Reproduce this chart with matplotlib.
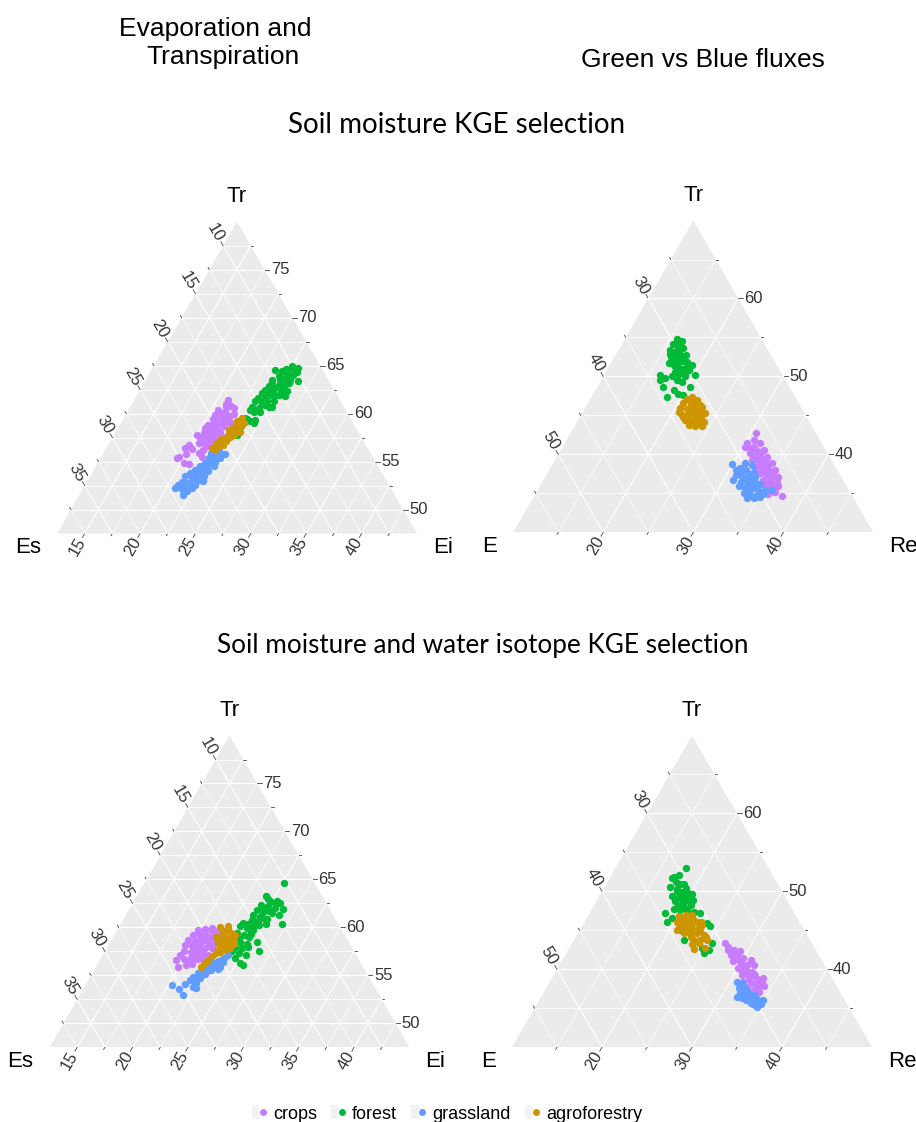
import numpy as np
import matplotlib.pyplot as plt
from matplotlib.patches import Polygon, Patch
from matplotlib.lines import Line2D
from matplotlib.legend_handler import HandlerTuple

plt.rcParams['font.family'] = ['Liberation Sans', 'DejaVu Sans']

# ---------------------------------------------------------------
# Evaporation / transpiration partitioning: pairs of (Tr, Ei) in %,
# soil evaporation Es is the remainder (100 - Tr - Ei)
# ---------------------------------------------------------------
et_sm_crops = [(61.4, 21.0), (60.6, 21.9), (60.4, 20.6), (60.2, 21.3), (59.9, 20.6), (59.7, 21.3),
               (59.7, 22.0), (59.4, 20.6), (59.2, 21.2), (59.2, 22.0), (58.8, 20.5), (58.7, 21.2),
               (58.7, 22.0), (59.0, 22.5), (58.5, 20.4), (58.3, 21.1), (58.1, 21.9), (57.8, 20.0),
               (57.8, 20.9), (57.6, 21.7), (57.6, 22.5), (57.3, 20.7), (57.1, 21.5), (57.1, 22.3),
               (56.9, 20.6), (56.6, 21.5), (56.7, 19.8), (56.4, 19.6), (56.6, 21.9), (55.5, 19.5),
               (55.4, 19.4), (55.9, 21.1), (55.5, 21.6), (54.8, 20.3), (54.7, 20.8), (60.7, 21.2),
               (60.0, 22.2), (58.0, 20.5), (57.3, 21.7), (60.1, 20.9), (59.5, 21.6), (59.0, 20.9),
               (58.9, 21.6), (58.4, 20.8), (58.3, 21.5), (57.9, 21.3), (57.5, 20.4), (57.4, 21.1),
               (56.9, 21.1), (56.3, 20.3), (56.2, 21.3), (55.8, 20.0), (60.8, 21.6), (61.0, 21.0)]
et_sm_forest = [(65.0, 25.0), (64.8, 25.6), (64.5, 23.7), (64.4, 24.4), (64.2, 24.9), (64.0, 25.6),
                (63.9, 24.3), (63.7, 25.0), (63.8, 25.4), (63.4, 26.3), (63.3, 24.0), (63.2, 24.8),
                (63.2, 25.6), (62.9, 23.9), (62.8, 24.7), (62.6, 25.4), (62.5, 23.8), (62.3, 24.6),
                (62.2, 25.5), (62.1, 23.7), (61.9, 24.6), (61.9, 25.3), (61.6, 23.6), (61.5, 24.3),
                (61.3, 25.2), (61.3, 23.5), (61.1, 24.2), (60.7, 25.0), (60.7, 23.5), (60.6, 24.2),
                (60.4, 23.5), (60.2, 23.9), (59.4, 23.7), (59.2, 24.1), (59.3, 24.5), (58.7, 23.5),
                (59.0, 24.5), (59.5, 23.5), (64.6, 25.3), (64.3, 25.8), (63.5, 25.5), (61.8, 25.9),
                (60.7, 25.3), (62.0, 24.1), (62.5, 25.2), (58.1, 23.6), (57.8, 23.6), (64.6, 24.6),
                (64.0, 25.0), (63.6, 24.6), (63.0, 25.2), (62.7, 24.2), (62.2, 24.2), (61.8, 24.9),
                (61.3, 24.6), (60.9, 24.6), (60.2, 24.5), (63.5, 23.9), (62.4, 25.8)]
et_sm_grass = [(56.1, 22.8), (55.8, 23.5), (55.7, 22.5), (55.4, 23.3), (55.4, 22.3), (55.0, 23.0),
               (54.8, 22.2), (54.7, 22.9), (54.5, 21.9), (54.3, 22.6), (54.1, 21.7), (54.0, 22.3),
               (54.0, 22.9), (53.8, 21.4), (53.6, 22.1), (53.5, 22.8), (53.5, 21.1), (53.3, 21.8),
               (53.1, 22.5), (52.9, 21.1), (52.8, 21.8), (52.6, 22.4), (52.6, 20.9), (52.4, 21.6),
               (52.2, 22.3), (52.2, 20.8), (52.1, 21.5), (51.9, 22.0), (55.2, 22.5), (55.5, 22.9),
               (54.3, 21.9), (52.2, 21.3), (51.5, 21.9), (55.8, 22.9), (55.1, 22.6), (54.6, 22.4),
               (54.5, 23.2), (53.9, 21.9), (53.2, 22.2), (52.8, 21.4), (52.4, 22.0), (55.9, 22.2),
               (53.0, 22.9)]
et_sm_agro = [(59.5, 23.2), (59.2, 23.2), (58.8, 23.1), (58.5, 23.4), (58.5, 22.8), (58.1, 23.3),
              (58.0, 22.8), (57.6, 23.1), (57.4, 22.7), (57.1, 23.0), (57.0, 22.6), (56.7, 22.5),
              (56.7, 22.9), (56.6, 22.3), (56.4, 22.0), (57.8, 23.3), (58.1, 23.7), (59.0, 23.6),
              (57.3, 22.4), (58.3, 22.6), (58.8, 23.5), (58.2, 23.0), (57.5, 22.9), (56.9, 22.2),
              (59.2, 22.9), (56.2, 22.4)]

et_iso_crops = [(59.7, 19.8), (59.8, 20.4), (59.7, 21.1), (59.6, 21.7), (59.2, 19.6), (59.2, 20.2),
                (59.1, 20.9), (59.0, 21.5), (58.9, 22.2), (58.7, 19.4), (58.6, 20.1), (58.5, 20.7),
                (58.5, 21.3), (58.4, 22.0), (58.2, 19.4), (58.1, 20.1), (58.0, 20.7), (57.9, 21.3),
                (57.8, 22.0), (57.5, 19.6), (57.4, 20.3), (57.3, 20.9), (57.2, 21.5), (56.6, 19.4),
                (56.7, 20.0), (56.8, 20.6), (56.7, 21.2), (55.9, 19.9), (56.1, 20.5), (56.2, 21.0),
                (56.6, 21.8), (57.1, 22.0), (57.1, 19.5), (59.5, 20.5), (59.4, 21.4), (58.9, 20.5),
                (58.8, 21.1), (58.3, 20.4), (58.2, 21.7), (57.7, 20.4), (57.6, 21.1), (57.1, 20.6),
                (57.0, 21.3), (56.4, 20.7), (59.9, 21.0)]
et_iso_forest = [(64.6, 25.1), (63.3, 24.1), (62.7, 24.8), (62.8, 25.4), (62.5, 25.8), (62.3, 24.2),
                 (62.2, 24.9), (62.0, 25.6), (61.9, 26.4), (61.8, 24.1), (61.6, 24.7), (61.5, 25.6),
                 (61.3, 26.3), (61.3, 24.0), (61.1, 24.7), (60.9, 25.4), (60.8, 24.1), (60.6, 24.8),
                 (60.5, 23.5), (60.4, 24.0), (60.1, 24.7), (60.4, 25.6), (60.4, 27.0), (60.1, 23.4),
                 (59.9, 24.1), (59.7, 24.8), (59.4, 23.5), (59.2, 24.2), (59.0, 24.8), (58.7, 23.5),
                 (58.5, 24.2), (58.3, 24.9), (58.5, 25.7), (58.0, 24.0), (57.8, 24.7), (57.5, 24.0),
                 (57.3, 24.7), (57.1, 25.4), (57.5, 26.4), (56.8, 24.6), (56.3, 25.3), (56.1, 25.7),
                 (62.5, 25.4), (63.0, 24.5), (62.0, 24.5), (61.0, 25.0), (60.7, 24.4), (59.8, 24.4),
                 (59.3, 24.8), (58.8, 24.0), (58.0, 25.2), (61.7, 25.2), (60.2, 25.1)]
et_iso_grass = [(57.1, 23.8), (56.8, 23.6), (56.5, 23.2), (56.3, 22.9), (55.9, 23.7), (55.9, 22.6),
                (55.6, 22.4), (55.6, 23.0), (55.2, 22.1), (55.1, 22.7), (54.8, 21.8), (54.7, 22.5),
                (54.5, 21.7), (54.2, 22.4), (55.7, 23.6), (53.8, 22.3), (53.7, 22.6), (54.0, 20.3),
                (53.6, 21.1), (54.1, 21.4), (53.0, 21.8), (56.0, 23.1), (56.6, 23.4), (56.1, 22.9),
                (55.4, 22.7), (54.9, 22.3), (54.4, 22.1), (56.4, 23.7)]
et_iso_agro = [(60.0, 21.6), (60.1, 22.3), (59.6, 22.2), (59.4, 22.9), (59.2, 23.4), (59.0, 22.6),
               (58.9, 23.3), (58.7, 22.5), (58.5, 23.1), (58.3, 23.8), (58.2, 23.2), (58.2, 22.6),
               (57.6, 22.7), (57.6, 23.3), (57.3, 22.6), (57.0, 22.4), (56.6, 22.3), (56.3, 22.1),
               (55.9, 22.0), (57.8, 23.6), (59.0, 21.8), (59.8, 22.5), (59.3, 22.3), (58.8, 22.9),
               (58.4, 22.3), (57.9, 22.9), (57.4, 22.9), (58.6, 23.6)]

# ---------------------------------------------------------------
# Green vs blue fluxes: pairs of (Tr, Re) in %, E is the remainder
# ---------------------------------------------------------------
gb_sm_crops = [(42.7, 30.6), (41.5, 30.2), (41.8, 30.8), (41.4, 31.7), (40.8, 30.9), (40.6, 31.7),
               (40.5, 32.6), (39.9, 31.7), (39.7, 32.6), (39.6, 33.4), (39.3, 31.9), (39.1, 32.7),
               (38.9, 33.6), (38.9, 34.3), (38.4, 32.7), (38.2, 33.5), (38.1, 34.3), (38.0, 35.1),
               (37.6, 33.6), (37.4, 34.5), (37.2, 35.3), (37.1, 35.9), (36.7, 34.4), (36.6, 35.2),
               (36.5, 36.0), (35.9, 35.2), (35.7, 36.1), (35.9, 36.5), (35.2, 35.9), (34.9, 35.9),
               (34.7, 37.5), (35.2, 36.5), (41.0, 30.3), (40.3, 32.4), (41.0, 31.2), (40.2, 31.2),
               (40.0, 32.2), (39.4, 32.3), (38.6, 33.1), (38.4, 34.0), (37.8, 34.0), (37.8, 34.9),
               (37.0, 34.9), (36.2, 35.6), (36.2, 34.8), (39.0, 33.2)]
gb_sm_forest = [(54.8, 15.8), (54.5, 16.5), (54.1, 15.7), (53.8, 16.4), (53.6, 17.1), (53.4, 15.7),
                (53.1, 16.4), (52.8, 17.1), (52.7, 17.8), (52.5, 16.3), (52.3, 17.0), (52.0, 17.7),
                (51.8, 18.4), (51.7, 16.4), (51.5, 17.1), (51.2, 17.7), (51.0, 18.4), (50.8, 19.1),
                (50.6, 17.7), (50.4, 18.3), (50.2, 16.2), (49.8, 17.0), (50.0, 17.6), (50.0, 19.1),
                (50.2, 20.1), (49.5, 18.4), (49.3, 19.1), (48.7, 20.3), (48.7, 17.3), (48.3, 18.7),
                (47.4, 18.4), (47.8, 19.4), (47.6, 20.1), (49.5, 16.5), (51.2, 18.7), (51.5, 19.1),
                (54.2, 16.2), (53.3, 16.8), (52.9, 16.0), (52.2, 16.7), (51.9, 17.2), (51.3, 17.3),
                (50.9, 17.9), (50.5, 18.8), (49.9, 18.2), (52.6, 17.5)]
gb_sm_grass = [(38.8, 29.9), (38.9, 31.3), (38.6, 32.2), (38.2, 31.1), (38.0, 31.9), (37.8, 32.8),
               (37.4, 31.0), (37.2, 31.8), (37.1, 32.6), (37.1, 33.3), (36.7, 31.1), (36.5, 32.0),
               (36.4, 32.8), (36.3, 33.5), (36.2, 34.3), (35.9, 32.1), (35.7, 32.9), (35.5, 33.7),
               (35.4, 34.5), (35.4, 35.3), (35.0, 33.1), (34.8, 33.9), (34.8, 34.7), (34.9, 35.3),
               (34.4, 33.8), (34.4, 34.5), (34.5, 35.2), (35.4, 36.0), (38.0, 30.7), (37.7, 31.5),
               (37.5, 32.4), (36.9, 32.2), (36.8, 33.0), (36.0, 33.2), (35.8, 34.0), (35.2, 33.6),
               (34.6, 34.1), (35.0, 34.9), (36.5, 33.6)]
gb_sm_agro = [(47.1, 20.7), (47.3, 21.2), (47.0, 21.9), (46.6, 20.6), (46.6, 21.4), (46.3, 22.2),
              (46.1, 22.9), (45.9, 20.6), (45.8, 21.4), (45.7, 22.2), (45.6, 23.0), (45.3, 23.7),
              (45.1, 21.2), (45.1, 21.9), (45.0, 22.7), (44.8, 23.5), (44.4, 21.9), (44.3, 22.7),
              (44.2, 23.5), (44.1, 24.1), (43.8, 22.6), (43.6, 23.4), (43.6, 24.2), (44.8, 21.5),
              (45.4, 20.7), (46.3, 21.9), (46.8, 21.3), (46.0, 21.6), (45.5, 22.5), (45.2, 22.4),
              (44.6, 23.0), (44.3, 22.3), (44.0, 23.0), (46.3, 22.6), (43.9, 23.9)]

gb_iso_crops = [(43.4, 27.0), (42.5, 27.7), (42.5, 28.4), (42.3, 29.2), (41.8, 28.4), (41.6, 29.2),
                (41.4, 30.0), (41.2, 30.9), (41.0, 29.1), (40.8, 30.0), (40.6, 30.8), (40.5, 31.6),
                (40.1, 30.1), (39.9, 31.0), (39.7, 31.8), (39.3, 30.9), (39.1, 31.8), (39.1, 32.5),
                (38.9, 33.4), (38.4, 31.5), (38.2, 32.4), (38.0, 33.2), (37.9, 34.0), (37.4, 33.2),
                (37.1, 33.9), (37.6, 32.3), (41.4, 29.1), (42.9, 27.5), (41.9, 29.0), (41.1, 29.8),
                (40.4, 30.6), (39.9, 30.5), (39.5, 31.4), (39.4, 32.2), (38.7, 32.0), (38.7, 32.9),
                (38.2, 33.7), (37.7, 33.5)]
gb_iso_forest = [(53.0, 17.8), (51.7, 16.9), (51.9, 17.1), (50.9, 18.7), (50.6, 17.3), (50.3, 18.2),
                 (50.4, 19.1), (49.9, 18.8), (49.8, 19.7), (49.4, 18.1), (49.1, 18.9), (49.0, 19.9),
                 (48.9, 20.7), (48.7, 18.8), (48.5, 19.8), (48.3, 20.7), (47.7, 19.1), (47.6, 19.9),
                 (47.6, 20.6), (47.2, 18.4), (47.4, 21.5), (47.2, 22.3), (46.1, 19.2), (46.6, 19.5),
                 (45.9, 23.7), (45.5, 24.3), (45.1, 21.2), (43.8, 22.2), (43.4, 25.5), (42.7, 24.8),
                 (42.5, 25.6), (42.1, 25.3), (48.7, 20.3), (49.6, 20.2), (52.1, 17.5), (51.2, 17.6),
                 (50.1, 18.3), (49.5, 19.3), (48.9, 19.4), (48.1, 19.4), (47.9, 20.3), (51.0, 18.2)]
gb_iso_grass = [(38.4, 30.8), (38.2, 31.5), (37.6, 31.4), (37.4, 32.3), (36.5, 31.8), (36.7, 32.4),
                (36.8, 32.9), (36.1, 32.9), (36.1, 33.6), (36.2, 34.1), (35.7, 33.7), (35.4, 34.3),
                (35.5, 34.9), (36.1, 34.8), (36.3, 32.4), (36.7, 33.5), (35.2, 34.6), (37.9, 31.8),
                (37.0, 32.7), (36.4, 33.2), (35.9, 34.3), (35.6, 34.0), (36.9, 31.9)]
gb_iso_agro = [(46.8, 20.1), (47.0, 20.8), (46.9, 21.6), (46.1, 20.3), (46.1, 21.0), (46.0, 21.8),
               (46.1, 22.5), (45.3, 20.9), (45.3, 21.6), (45.3, 22.4), (45.3, 23.1), (44.6, 21.8),
               (44.6, 22.5), (44.6, 23.3), (44.4, 24.1), (45.1, 20.8), (43.8, 23.3), (43.8, 24.0),
               (43.8, 24.8), (43.2, 23.4), (42.6, 23.9), (42.7, 25.1), (46.4, 21.5), (45.7, 23.3),
               (46.5, 20.6), (46.5, 21.9), (45.7, 21.3), (45.7, 22.0), (45.0, 22.0), (45.0, 23.4),
               (44.2, 22.8), (44.2, 24.4), (43.4, 24.1), (46.0, 23.0)]

groups = ['crops', 'forest', 'grassland', 'agroforestry']
colors = ['#C77CFF', '#00BA38', '#619CFF', '#CD9600']

# axis limits: minimum of (top, left, right) and common span
et_names, et_mins, et_span = ('Tr', 'Es', 'Ei'), (47.5, 7.5, 12.5), 32.5
gb_names, gb_mins, gb_span = ('Tr', 'E', 'Re'), (30, 20, 10), 40

W, H = 916, 1122
S3 = np.sqrt(3) / 2
SIDE = 360.0          # triangle side in pixels
PX = 1 / SIDE         # one pixel in triangle units

fig = plt.figure(figsize=(W / 100, H / 100), dpi=100)
fig.patch.set_facecolor('white')


def to_xy(top, right, mins, span):
    t = (np.asarray(top) - mins[0]) / span
    r = (np.asarray(right) - mins[2]) / span
    return r + t / 2, t * S3


def tern_panel(x_left, y_base, names, mins, span, step, lab_step, series):
    ax = fig.add_axes([x_left / W, 1 - y_base / H, SIDE / W, SIDE * S3 / H])
    ax.set_xlim(0, 1)
    ax.set_ylim(0, S3)
    ax.axis('off')
    ax.add_patch(Polygon([(0, 0), (1, 0), (0.5, S3)], closed=True,
                         fc='#EBEBEB', ec='none', zorder=0))

    n = int(round(span / step))
    for i in range(1, n):
        f = i / n
        # top axis: horizontal lines, labels on the right side
        # left axis: lines parallel to the right side, labels on the left side
        # right axis: lines parallel to the left side, labels on the bottom
        specs = [
            (mins[0], (f / 2, f * S3), (1 - f / 2, f * S3), (1 - f / 2, f * S3),
             (1.0, 0.0), 0, 'left'),
            (mins[1], ((1 - f) / 2, (1 - f) * S3), (1 - f, 0), ((1 - f) / 2, (1 - f) * S3),
             (-0.5, S3), -60, 'right'),
            (mins[2], (f, 0), (f + (1 - f) / 2, (1 - f) * S3), (f, 0),
             (-0.5, -S3), 60, 'right'),
        ]
        for vmin, p0, p1, tick, d, rot, ha in specs:
            val = vmin + i * step
            major = abs(val / lab_step - round(val / lab_step)) < 1e-6
            ax.plot([p0[0], p1[0]], [p0[1], p1[1]], color='white',
                    lw=0.8 if major else 0.55, zorder=1)
            tl = 4.5 if major else 2.5
            ax.plot([tick[0], tick[0] + tl * PX * d[0]], [tick[1], tick[1] + tl * PX * d[1]],
                    color='#444444', lw=0.6, clip_on=False, zorder=1)
            if major:
                ax.annotate('%d' % round(val), tick, xytext=(6 * d[0], 6 * d[1]),
                            textcoords='offset pixels', rotation=rot, rotation_mode='anchor',
                            ha=ha, va='center', fontsize=12, color='#333333')

    ax.annotate(names[0], (0.5, S3), xytext=(0, 25), textcoords='offset pixels',
                ha='center', va='center', fontsize=16)
    ax.annotate(names[1], (0, 0), xytext=(-16, -14), textcoords='offset pixels',
                ha='right', va='center', fontsize=16)
    ax.annotate(names[2], (1, 0), xytext=(16, -14), textcoords='offset pixels',
                ha='left', va='center', fontsize=16)

    for pts, col in zip(series, colors):
        arr = np.array(pts)
        x, y = to_xy(arr[:, 0], arr[:, 1], mins, span)
        ax.scatter(x, y, s=28, c=col, lw=0, zorder=3, clip_on=False)
    return ax


tern_panel(57, 533.5, et_names, et_mins, et_span, 2.5, 5,
           [et_sm_crops, et_sm_forest, et_sm_grass, et_sm_agro])
tern_panel(513.3, 532.3, gb_names, gb_mins, gb_span, 5, 10,
           [gb_sm_crops, gb_sm_forest, gb_sm_grass, gb_sm_agro])
tern_panel(49.5, 1047.3, et_names, et_mins, et_span, 2.5, 5,
           [et_iso_crops, et_iso_forest, et_iso_grass, et_iso_agro])
tern_panel(512, 1047.2, gb_names, gb_mins, gb_span, 5, 10,
           [gb_iso_crops, gb_iso_forest, gb_iso_grass, gb_iso_agro])

# headings
fig.text(215 / W, 1 - 29 / H, 'Evaporation and', ha='center', va='center', fontsize=19)
fig.text(223 / W, 1 - 57 / H, 'Transpiration', ha='center', va='center', fontsize=19)
fig.text(703 / W, 1 - 60 / H, 'Green vs Blue fluxes', ha='center', va='center', fontsize=19)
fig.text(457 / W, 1 - 125 / H, 'Soil moisture KGE selection', ha='center', va='center',
         fontsize=20, family=['Lato', 'DejaVu Sans'])
fig.text(483 / W, 1 - 645 / H, 'Soil moisture and water isotope KGE selection',
         ha='center', va='center', fontsize=18.8, family=['Lato', 'DejaVu Sans'])

# legend with grey key boxes
handles = [(Patch(fc='#F2F2F2', ec='none'),
            Line2D([], [], ls='none', marker='o', ms=5, mfc=c, mec='none')) for c in colors]
fig.legend(handles, groups, loc='center', bbox_to_anchor=(447 / W, 1 - 1114 / H), ncol=4,
           frameon=False, fontsize=13, handlelength=0.8, handleheight=0.8,
           handletextpad=0.35, columnspacing=0.8, borderpad=0,
           handler_map={tuple: HandlerTuple(ndivide=None)})

fig.savefig('out.png', dpi=100)
